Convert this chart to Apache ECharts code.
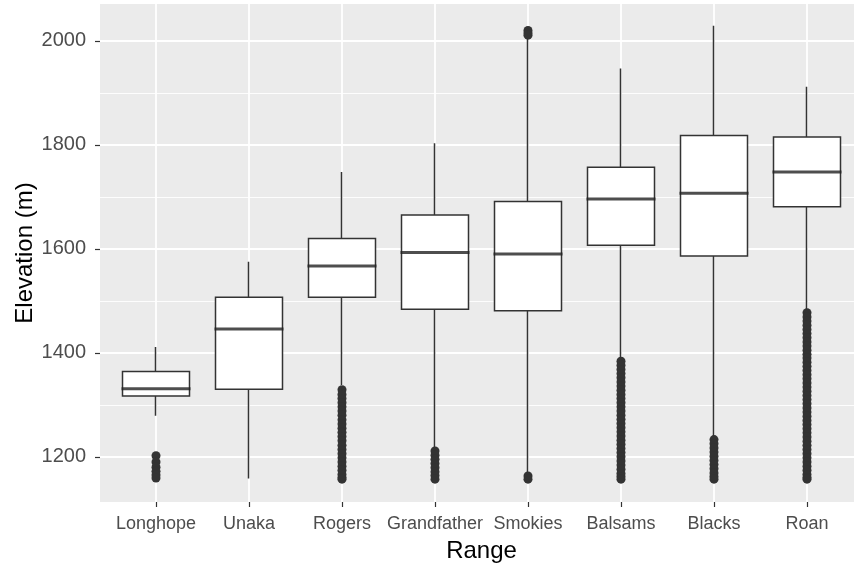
<!DOCTYPE html>
<html>
<head>
<meta charset="utf-8">
<script src="https://cdn.jsdelivr.net/npm/echarts@6/dist/echarts.min.js"></script>
<style>
  html, body { margin: 0; padding: 0; background: #fff; }
  #chart { width: 854px; height: 567px; }
</style>
</head>
<body>
<div id="chart"></div>
<script>
// mountain ranges, ordered as on the x axis
const ranges = ['Longhope', 'Unaka', 'Rogers', 'Grandfather', 'Smokies', 'Balsams', 'Blacks', 'Roan']

// box statistics (m)
const whiskerLow = [1279, 1158, 1338, 1219, 1168, 1392, 1240, 1484]
const q1 = [1317, 1330, 1507, 1484, 1481, 1607, 1586, 1681]
const median = [1331, 1446, 1567, 1593, 1590, 1696, 1707, 1748]
const q3 = [1364, 1507, 1620, 1665, 1691, 1757, 1818, 1815]
const whiskerHigh = [1411, 1575, 1748, 1803, 2004, 1947, 2029, 1912]

// outliers
const outLonghope = [1202, 1190, 1180, 1172, 1165, 1159]
const outUnaka = []
const outRogers = [1329, 1320, 1312, 1304, 1296, 1288, 1280, 1271, 1263, 1255, 1247, 1239, 1231, 1222,
  1214, 1206, 1198, 1190, 1182, 1174, 1166, 1160, 1157]
const outGrandfather = [1211, 1203, 1195, 1187, 1179, 1171, 1164, 1157]
const outSmokies = [2020, 2015, 2011, 1163, 1157]
const outBalsams = [1384, 1376, 1368, 1360, 1352, 1344, 1336, 1328, 1320, 1312, 1304, 1296, 1288, 1280,
  1272, 1264, 1256, 1248, 1240, 1232, 1224, 1216, 1208, 1200, 1192, 1184, 1176, 1168, 1162, 1157]
const outBlacks = [1233, 1225, 1217, 1209, 1201, 1193, 1185, 1177, 1169, 1162, 1157]
const outRoan = [1477, 1469, 1461, 1453, 1445, 1437, 1429, 1421, 1413, 1405, 1397, 1390, 1382, 1374, 1366,
  1358, 1350, 1342, 1334, 1326, 1318, 1310, 1302, 1294, 1286, 1278, 1270, 1262, 1254, 1246, 1238, 1230,
  1222, 1214, 1206, 1198, 1190, 1182, 1174, 1166, 1160, 1157]
const outliers = [outLonghope, outUnaka, outRogers, outGrandfather, outSmokies, outBalsams, outBlacks, outRoan]

const yMin = 1113
const yMax = 2071
const majorTicks = [1200, 1400, 1600, 1800, 2000]
const minorTicks = [1300, 1500, 1700, 1900]

const boxData = ranges.map((r, i) => [q1[i], q3[i], whiskerLow[i], whiskerHigh[i]])
const medianData = ranges.map((r, i) => [r, median[i]])
const outlierData = []
outliers.forEach((list, i) => {
  list.forEach(v => outlierData.push([ranges[i], v]))
})

const chart = echarts.init(document.getElementById('chart'))
const option = {
  animation: false,
  backgroundColor: '#fff',
  grid: [
    // panel background + horizontal grid lines
    { left: 100, right: 0, top: 4, height: 498, show: true, backgroundColor: '#EBEBEB', borderWidth: 0, outerBoundsMode: 'none', containLabel: false },
    // boxes, category points at the panel's category centres
    { left: 156, right: 47, top: 4, height: 498, outerBoundsMode: 'none', containLabel: false }
  ],
  xAxis: [
    { type: 'value', gridIndex: 0, show: false, min: 0, max: 1 },
    {
      type: 'category',
      gridIndex: 1,
      data: ranges,
      boundaryGap: false,
      axisLine: { show: false },
      axisTick: { show: true, interval: 0, length: 5, lineStyle: { color: '#333333', width: 1.2 } },
      axisLabel: { interval: 0, margin: 13, fontSize: 18, color: '#4D4D4D', fontFamily: 'Liberation Sans' },
      splitLine: { show: true, interval: 0, lineStyle: { color: '#fff', width: 1.8 } },
      name: 'Range',
      nameLocation: 'middle',
      nameGap: 37,
      nameMoveOverlap: false,
      nameTextStyle: { fontSize: 24, color: '#000', fontFamily: 'Liberation Sans' }
    }
  ],
  yAxis: [
    {
      type: 'value',
      gridIndex: 0,
      min: yMin,
      max: yMax,
      axisLine: { show: false },
      axisTick: { show: true, length: 5, customValues: majorTicks, lineStyle: { color: '#333333', width: 1.2 } },
      axisLabel: {
        margin: 14, fontSize: 20, color: '#4D4D4D', fontFamily: 'Liberation Sans',
        customValues: majorTicks, formatter: v => String(v)
      },
      splitLine: { show: true, lineStyle: { color: '#fff', width: 1.8 } },
      name: 'Elevation (m)',
      nameLocation: 'middle',
      nameGap: 63,
      nameMoveOverlap: false,
      nameTextStyle: { fontSize: 24, color: '#000', fontFamily: 'Liberation Sans' }
    },
    {
      type: 'value',
      gridIndex: 0,
      min: yMin,
      max: yMax,
      position: 'left',
      axisLine: { show: false },
      axisTick: { show: false, customValues: minorTicks },
      axisLabel: { show: false, customValues: minorTicks },
      splitLine: { show: true, lineStyle: { color: '#fff', width: 0.9 } }
    },
    { type: 'value', gridIndex: 1, min: yMin, max: yMax, show: false }
  ],
  series: [
    {
      type: 'candlestick',
      xAxisIndex: 1,
      yAxisIndex: 2,
      barWidth: 68,
      data: boxData,
      itemStyle: { color: '#fff', color0: '#fff', borderColor: '#333333', borderColor0: '#333333', borderWidth: 1.5 },
      emphasis: { disabled: true }
    },
    {
      type: 'scatter',
      xAxisIndex: 1,
      yAxisIndex: 2,
      symbol: 'rect',
      symbolSize: [69, 3],
      data: medianData,
      itemStyle: { color: '#222222' },
      emphasis: { disabled: true }
    },
    {
      type: 'scatter',
      xAxisIndex: 1,
      yAxisIndex: 2,
      symbol: 'circle',
      symbolSize: 9,
      data: outlierData,
      itemStyle: { color: '#333333', opacity: 1 },
      emphasis: { disabled: true }
    }
  ]
}
chart.setOption(option)
</script>
</body>
</html>
